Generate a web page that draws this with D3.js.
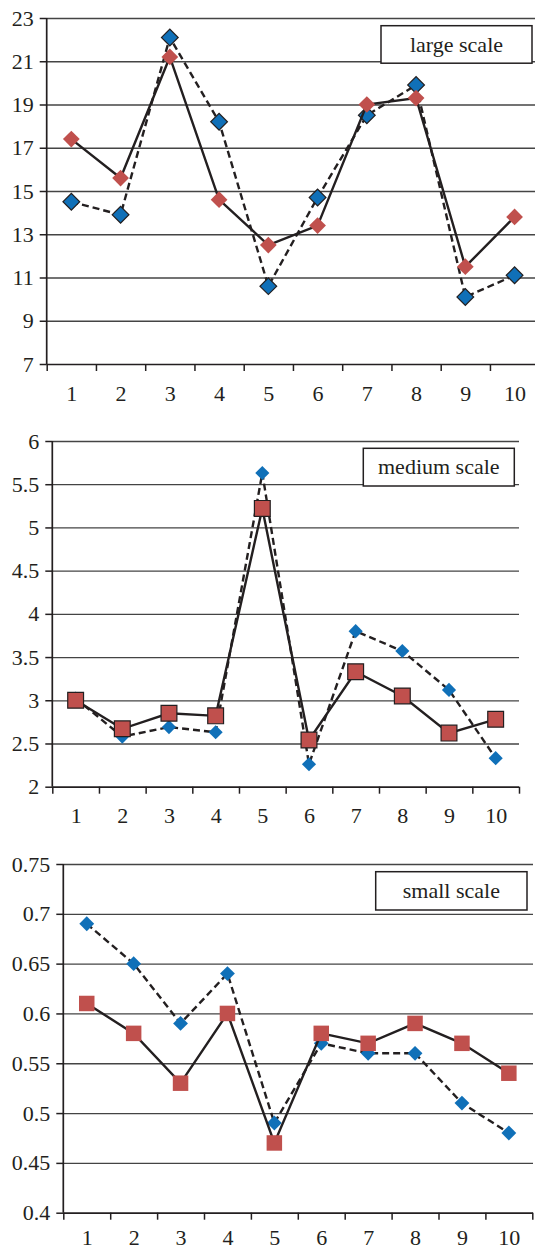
<!DOCTYPE html>
<meta charset="utf-8">
<style>
body { margin: 0; background: #fff; }
svg { display: block; }
text { font-family: 'Liberation Serif', 'Times New Roman', serif; fill: #231f20; }
</style>
<body>
<svg width="535" height="1251"></svg>
<script src="https://d3js.org/d3.v7.min.js"></script>
<script>

// values
var categories = [1, 2, 3, 4, 5, 6, 7, 8, 9, 10];

var largeBlue = [14.5, 13.9, 22.1, 18.2, 10.6, 14.7, 18.5, 19.9, 10.1, 11.1];
var largeRed  = [17.4, 15.6, 21.2, 14.6, 12.5, 13.4, 19.0, 19.3, 11.5, 13.8];
var largeTicks = [7, 9, 11, 13, 15, 17, 19, 21, 23];

var mediumBlue = [3.02, 2.58, 2.69, 2.63, 5.63, 2.26, 3.80, 3.57, 3.12, 2.33];
var mediumRed  = [3.00, 2.67, 2.85, 2.82, 5.22, 2.54, 3.33, 3.05, 2.62, 2.78];
var mediumTicks = [2, 2.5, 3, 3.5, 4, 4.5, 5, 5.5, 6];

var smallBlue = [0.69, 0.65, 0.59, 0.64, 0.49, 0.57, 0.56, 0.56, 0.51, 0.48];
var smallRed  = [0.61, 0.58, 0.53, 0.60, 0.47, 0.58, 0.57, 0.59, 0.57, 0.54];
var smallTicks = [0.4, 0.45, 0.5, 0.55, 0.6, 0.65, 0.7, 0.75];

var titles = ["large scale", "medium scale", "small scale"];

var blue = "#1070b8", red = "#c0504d", ink = "#231f20";

var svg = d3.select("svg");

// layout of each panel
var panels = [
  { blue: largeBlue, red: largeRed, ticks: largeTicks, title: titles[0],
    left: 46.7, right: 539.2, gridRight: 540, top: 18, bottom: 364, labelPad: 21,
    box: [381, 25.7, 151, 37.5],
    blueMark: { shape: "diamond", size: 140, stroke: true },
    redMark: { shape: "diamond", size: 140, stroke: false } },
  { blue: mediumBlue, red: mediumRed, ticks: mediumTicks, title: titles[1],
    left: 52.3, right: 519, gridRight: 519, top: 441, bottom: 786.7, labelPad: 21,
    box: [363.3, 448.3, 151, 37.7],
    blueMark: { shape: "diamond", size: 100, stroke: false },
    redMark: { shape: "square", size: 250, stroke: true } },
  { blue: smallBlue, red: smallRed, ticks: smallTicks, title: titles[2],
    left: 63.3, right: 532.3, gridRight: 533, top: 864, bottom: 1212.7, labelPad: 17,
    box: [375.7, 871.7, 151.3, 38.3],
    blueMark: { shape: "diamond", size: 110, stroke: false },
    redMark: { shape: "square", size: 240, stroke: false } }
];

panels.forEach(drawPanel);

function drawPanel(p) {
  var g = svg.append("g");

  var x = d3.scaleLinear().domain([0.5, 10.5]).range([p.left, p.right]);
  var y = d3.scaleLinear().domain(d3.extent(p.ticks)).range([p.bottom, p.top]);

  // horizontal gridlines
  g.append("g")
      .attr("transform", "translate(" + p.left + ",0)")
      .call(d3.axisLeft(y).tickValues(p.ticks).tickFormat("")
        .tickSizeInner(-(p.gridRight - p.left)).tickSizeOuter(0))
      .call(function(a) {
        a.select(".domain").remove();
        a.selectAll("line").attr("stroke", "#444").attr("stroke-width", 1.3);
        a.selectAll("line").filter(function(d) { return d === p.ticks[0]; })
            .attr("stroke", ink).attr("stroke-width", 1.7);
      });

  // y axis
  g.append("g")
      .attr("transform", "translate(" + p.left + ",0)")
      .call(d3.axisLeft(y).tickValues(p.ticks).tickFormat(d3.format("~g"))
        .tickSize(7).tickPadding(6))
      .call(function(a) {
        a.select(".domain").attr("stroke", ink).attr("stroke-width", 1.7)
            .attr("d", "M0," + p.top + "V" + p.bottom);
        a.selectAll("line").attr("stroke", ink).attr("stroke-width", 1.5);
        a.selectAll("text").attr("font-size", 22).attr("fill", ink)
            .attr("font-family", "'Liberation Serif', serif");
      });

  // x ticks at category edges
  var edges = d3.range(0.5, 11, 1);
  g.append("g")
      .attr("transform", "translate(0," + p.bottom + ")")
      .call(d3.axisBottom(x).tickValues(edges).tickFormat("").tickSize(7))
      .call(function(a) {
        a.select(".domain").remove();
        a.selectAll("line").attr("stroke", ink).attr("stroke-width", 1.5);
      });

  // x labels at category centres
  g.append("g")
      .attr("transform", "translate(0," + p.bottom + ")")
      .call(d3.axisBottom(x).tickValues(categories).tickSize(0).tickPadding(p.labelPad))
      .call(function(a) {
        a.select(".domain").remove();
        a.selectAll("text").attr("font-size", 22).attr("fill", ink)
            .attr("font-family", "'Liberation Serif', serif");
      });

  // legend box
  g.append("rect")
      .attr("x", p.box[0]).attr("y", p.box[1])
      .attr("width", p.box[2]).attr("height", p.box[3])
      .attr("fill", "#fff").attr("stroke", ink).attr("stroke-width", 1.5);
  g.append("text")
      .attr("x", p.box[0] + p.box[2] / 2)
      .attr("y", p.box[1] + p.box[3] / 2)
      .attr("dy", "0.33em")
      .attr("text-anchor", "middle")
      .attr("font-size", 22)
      .text(p.title);

  drawSeries(g, p.blue, x, y, "7,4", blue, p.blueMark);
  drawSeries(g, p.red, x, y, null, red, p.redMark);
}

function drawSeries(g, values, x, y, dash, color, mark) {
  var pts = values.map(function(v, i) { return [categories[i], v]; });

  g.append("path")
      .datum(pts)
      .attr("fill", "none")
      .attr("stroke", ink)
      .attr("stroke-width", 2.4)
      .attr("stroke-dasharray", dash)
      .attr("d", d3.line().x(function(d) { return x(d[0]); }).y(function(d) { return y(d[1]); }));

  var sym = d3.symbol().type(d3.symbolSquare).size(mark.size);

  g.selectAll(null)
      .data(pts)
      .enter()
      .append("path")
      .attr("d", sym)
      .attr("transform", function(d) {
        return "translate(" + x(d[0]) + "," + y(d[1]) + ")" +
          (mark.shape === "diamond" ? " rotate(45)" : "");
      })
      .attr("fill", color)
      .attr("stroke", mark.stroke ? ink : "none")
      .attr("stroke-width", 1.2);
}

</script>
</body>
